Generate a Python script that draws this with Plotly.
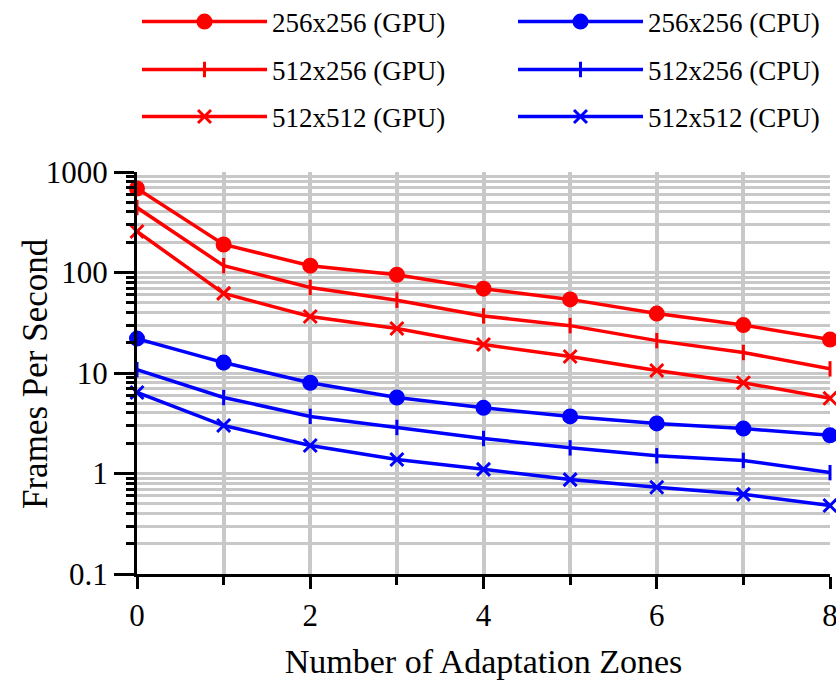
import plotly.graph_objects as go

zones = [0, 1, 2, 3, 4, 5, 6, 7, 8]

gpu_256x256 = [685, 190, 117, 95, 69, 54, 39, 30, 21.5]
gpu_512x256 = [443, 117, 71, 53, 37, 29.6, 21, 16, 11]
gpu_512x512 = [256, 62, 36.5, 27.7, 19.2, 14.6, 10.6, 8, 5.6]
cpu_256x256 = [22, 12.7, 8, 5.7, 4.5, 3.7, 3.15, 2.8, 2.4]
cpu_512x256 = [10.8, 5.7, 3.7, 2.87, 2.23, 1.8, 1.5, 1.35, 1.02]
cpu_512x512 = [6.4, 3.0, 1.9, 1.38, 1.1, 0.87, 0.73, 0.62, 0.48]

y_tickvals = [0.1, 1, 10, 100, 1000]
y_ticktext = ["0.1", "1", "10", "100", "1000"]
y_minorvals = [m * 10 ** e for e in (-1, 0, 1, 2) for m in range(2, 10)]

RED = "#ff0000"
BLUE = "#0000ff"
FONT = "Liberation Serif"

# name, values, colour, marker, size, legend id, legend column, legend row
series = [
    ("256x256 (GPU)", gpu_256x256, RED, "circle", 13, "legend", 0, 0),
    ("256x256 (CPU)", cpu_256x256, BLUE, "circle", 13, "legend2", 1, 0),
    ("512x256 (GPU)", gpu_512x256, RED, "line-ns", 11, "legend3", 0, 1),
    ("512x256 (CPU)", cpu_512x256, BLUE, "line-ns", 11, "legend4", 1, 1),
    ("512x512 (GPU)", gpu_512x512, RED, "x-thin", 13, "legend5", 0, 2),
    ("512x512 (CPU)", cpu_512x512, BLUE, "x-thin", 13, "legend6", 1, 2),
]

fig = go.Figure()
for name, vals, col, sym, size, lg, _, _ in series:
    fig.add_trace(go.Scatter(
        x=zones, y=vals, name=name, mode="lines+markers",
        line=dict(color=col, width=3.5),
        marker=dict(symbol=sym, size=size, color=col, line=dict(color=col, width=3)),
        cliponaxis=False, legend=lg,
    ))

grid = "#c8c8c8"
fig.update_xaxes(
    range=[0, 8], dtick=2, tick0=0,
    showline=True, linecolor="black", linewidth=3,
    ticks="outside", ticklen=12, tickwidth=3, tickcolor="black",
    showgrid=True, gridcolor=grid, gridwidth=4,
    minor=dict(dtick=1, ticks="outside", ticklen=8, tickwidth=3, tickcolor="black",
               showgrid=True, gridcolor=grid, gridwidth=4),
    zeroline=False, ticklabeloverflow="allow",
    title=dict(text="Number of Adaptation Zones", font=dict(family=FONT, size=34, color="black"), standoff=20),
    tickfont=dict(family=FONT, size=31, color="black"),
)
fig.update_yaxes(
    type="log", range=[-1, 3],
    tickvals=y_tickvals, ticktext=y_ticktext,
    showline=True, linecolor="black", linewidth=3,
    ticks="outside", ticklen=20, tickwidth=3, tickcolor="black",
    showgrid=True, gridcolor=grid, gridwidth=3,
    minor=dict(tickvals=y_minorvals, ticks="outside", ticklen=8, tickwidth=3, tickcolor="black",
               showgrid=True, gridcolor=grid, gridwidth=3),
    zeroline=False,
    tickfont=dict(family=FONT, size=31, color="black"),
)

fig.add_annotation(
    text="Frames Per Second", textangle=-90,
    xref="paper", yref="paper", x=-(137 - 35) / 693, y=0.5,
    xanchor="center", yanchor="middle", showarrow=False,
    font=dict(family=FONT, size=35, color="black"),
)

col_x = [137, 513]
row_y = [22, 70, 117]
legends = {}
for _, _, _, _, _, lg, c, r in series:
    legends[lg] = dict(orientation="h", xref="container", yref="container",
                       x=col_x[c] / 836, xanchor="left",
                       y=1 - row_y[r] / 680, yanchor="middle",
                       font=dict(family=FONT, size=27, color="black"),
                       itemwidth=125, bgcolor="rgba(0,0,0,0)")

fig.update_layout(
    width=836, height=680,
    margin=dict(l=137, r=6, t=172, b=106, autoexpand=False),
    plot_bgcolor="white", paper_bgcolor="white",
    font=dict(family=FONT, color="black"),
    showlegend=True,
    **legends,
)

fig.write_html("out.html", config={"displayModeBar": False})

with open("out.html", "r", encoding="utf-8") as f:
    html = f.read()
html = html.replace("<head>", "<head><style>html,body{margin:0;padding:0;overflow:hidden;}</style>", 1)
with open("out.html", "w", encoding="utf-8") as f:
    f.write(html)
